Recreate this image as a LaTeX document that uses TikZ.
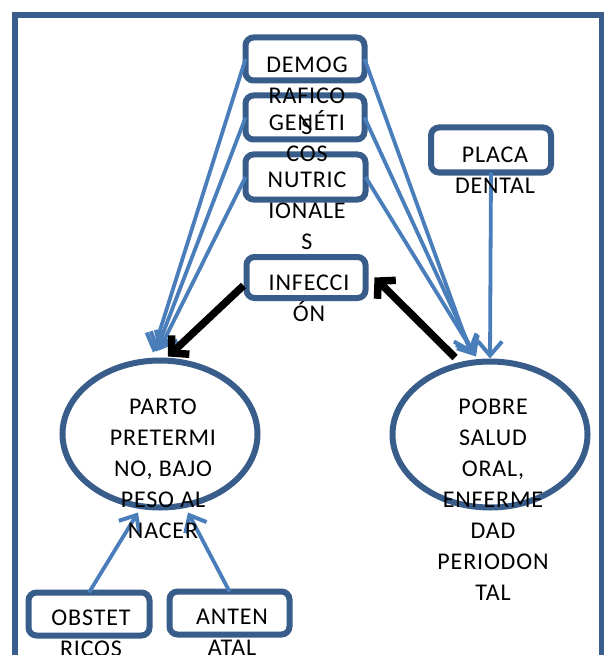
\documentclass[tikz,border=0pt]{standalone}
\usepackage{fontspec}
\setmainfont{Carlito}[LetterSpace=3.5]
\usetikzlibrary{arrows.meta,shapes.geometric,calc}
\definecolor{boxblue}{HTML}{385D8A}
\definecolor{arrblue}{HTML}{4A7EBB}
\newcommand{\mylines}[1]{\begin{tabular}[t]{@{}c@{}}#1\end{tabular}}
\begin{document}
\begin{tikzpicture}[x=1pt,y=-1pt,
  box/.style={draw=boxblue, line width=6pt, rounded corners=8pt, fill=white, inner sep=0pt, outer sep=0pt},
  oval/.style={ellipse, draw=boxblue, line width=6pt, fill=white, inner sep=0pt, outer sep=0pt, minimum width=195pt, minimum height=147pt},
  lbl/.style={anchor=base, inner sep=0pt, font=\fontsize{24}{31}\selectfont, text=black},
  barrow/.style={draw=arrblue, line width=3.8pt, -{Straight Barb[length=14pt,width=24pt,line width=4pt]}},
  karrow/.style={draw=black, line width=7.5pt, -{Straight Barb[length=12pt,width=26pt]}}
]
\useasboundingbox (0,0) rectangle (604,655);
% outer frame
\draw[boxblue, line width=6pt] (14.5,15) rectangle (601.5,690);

% boxes
\node[box, minimum width=119pt, minimum height=43pt] (demog) at (305,59) {};
\node[box, minimum width=119pt, minimum height=44pt] (genet) at (305,117.5) {};
\node[box, minimum width=120pt, minimum height=45pt] (nutri) at (305.5,177) {};
\node[box, minimum width=119pt, minimum height=41pt] (infec) at (306,277.5) {};
\node[box, minimum width=120pt, minimum height=45pt] (placa) at (491,150) {};
\node[box, minimum width=121pt, minimum height=43pt] (obst) at (89,614) {};
\node[box, minimum width=120pt, minimum height=43pt] (anten) at (229.5,613) {};
\node[oval] (lell) at (160,434) {};
\node[oval, minimum height=146pt] (rell) at (490,434.5) {};

% blue arrows
\draw[barrow] (demog.west) -- ([xshift=-7pt,yshift=8pt]lell.north);
\draw[barrow] (genet.west) -- ([xshift=-4pt,yshift=9pt]lell.north);
\draw[barrow] (nutri.west) -- ([xshift=-1pt,yshift=10pt]lell.north);
\draw[barrow] (demog.east) -- ([xshift=-19pt,yshift=8pt]rell.north);
\draw[barrow] (genet.east) -- ([xshift=-16pt,yshift=6pt]rell.north);
\draw[barrow] (nutri.east) -- ([xshift=-14pt,yshift=5pt]rell.north);
\draw[barrow] (placa.south) -- ([yshift=3pt]rell.north);
\draw[barrow] (obst.north) -- ([xshift=-22pt,yshift=-5pt]lell.south);
\draw[barrow] (anten.north) -- ([xshift=28pt,yshift=-5pt]lell.south);

% black arrows
\draw[karrow] ([xshift=-3pt,yshift=-8pt]infec.west) -- ([xshift=8pt,yshift=4pt]lell.north);
\draw[karrow] ([xshift=-35pt,yshift=4pt]rell.north) -- ([xshift=9pt]infec.east);

% texts
\node[lbl] (tdemog) at (307,72.5) {\mylines{DEMOG\\RAFICO\\S}};
\node[lbl] (tgenet) at (307,130.5) {\mylines{GENÉTI\\COS}};
\node[lbl] (tnutri) at (307,187.5) {\mylines{NUTRIC\\IONALE\\S}};
\node[lbl] (tinfec) at (309,290.5) {\mylines{INFECCI\\ÓN}};
\node[lbl] (tplaca) at (495,162.5) {\mylines{PLACA\\DENTAL}};
\node[lbl] (tlell) at (163,414.5) {\mylines{PARTO\\PRETERMI\\NO, BAJO\\PESO AL\\NACER}};
\node[lbl] (trell) at (493,414.5) {\mylines{POBRE\\SALUD\\ORAL,\\ENFERME\\DAD\\PERIODON\\TAL}};
\node[lbl] (tobst) at (91,625.5) {\mylines{OBSTET\\RICOS}};
\node[lbl] (tanten) at (232,624.5) {\mylines{ANTEN\\ATAL}};
\end{tikzpicture}
\end{document}
